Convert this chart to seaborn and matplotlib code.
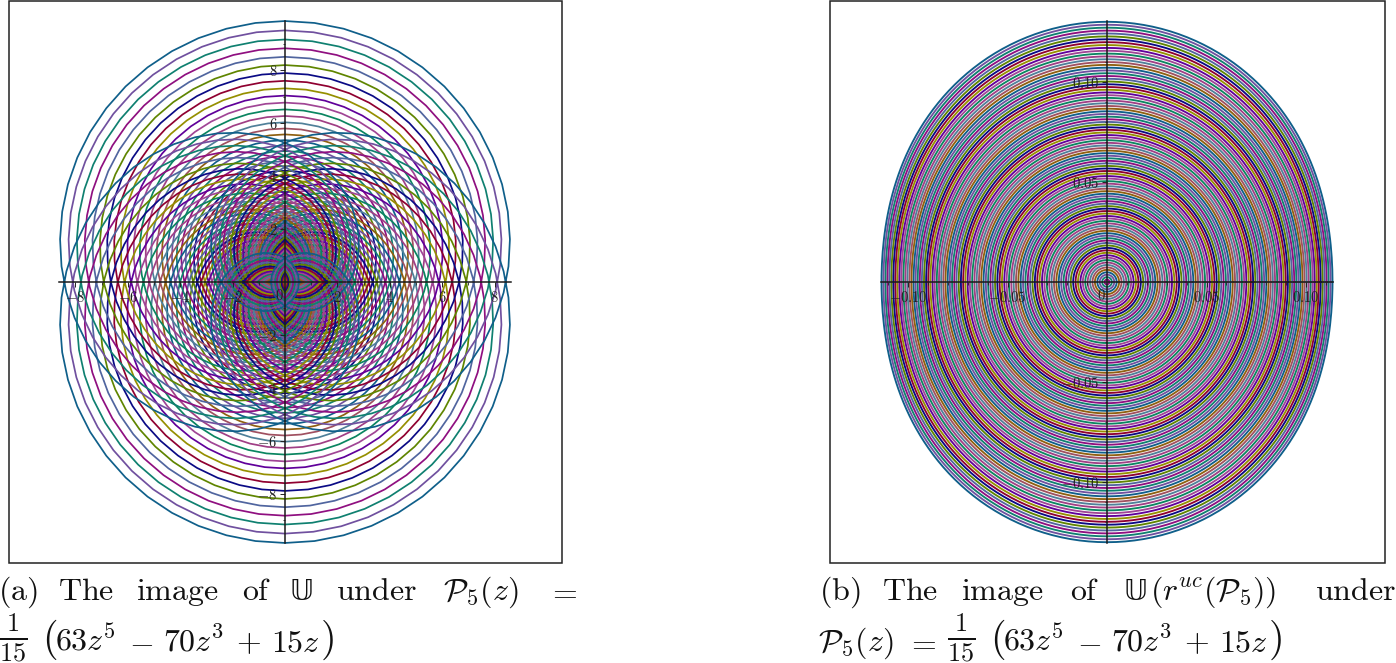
import numpy as np
import pandas as pd
import matplotlib
matplotlib.use("Agg")
import matplotlib.pyplot as plt
import seaborn as sns

# Both panels show circles |z| = r pushed through the polynomial in the captions,
# so the curve shapes come from that polynomial; only the radii and colours are read off.

# circle radii, percent of the panel's outer radius (1 = innermost, drawn first)
RADII_PCT = [
    1, 2, 3, 4, 5, 6, 7, 8, 9, 10, 11, 12, 13, 14, 15, 16, 17, 18, 19, 20,
    21, 22, 23, 24, 25, 26, 27, 28, 29, 30, 31, 32, 33, 34, 35, 36, 37, 38, 39, 40,
    41, 42, 43, 44, 45, 46, 47, 48, 49, 50, 51, 52, 53, 54, 55, 56, 57, 58, 59, 60,
    61, 62, 63, 64, 65, 66, 67, 68, 69, 70, 71, 72, 73, 74, 75, 76, 77, 78, 79, 80,
    81, 82, 83, 84, 85, 86, 87, 88, 89, 90, 91, 92, 93, 94, 95, 96, 97, 98, 99, 100,
]
OUTER_RADIUS_A = 1.0
OUTER_RADIUS_B = 0.1216

# colours going inward from the outermost curve
CYCLE = ["#0f5f8a", "#70509f", "#0f8070", "#8f0f80", "#50659f", "#5f8500", "#0a0a85", "#8f0030",
         "#958f00", "#60009a", "#a04595", "#0a8560", "#a03f85", "#4f8099", "#a05060", "#8f6010"]

TICKS_A = [-8, -6, -4, -2, 2, 4, 6, 8]
MINOR_XA = [-7, -5, -3, -1, 1, 3, 5, 7]
MINOR_YA = [-9, -7, -5, -3, -1, 1, 3, 5, 7, 9]
LABELS_A = ["$-8$", "$-6$", "$-4$", "$-2$", "$2$", "$4$", "$6$", "$8$"]
TICKS_B = [-0.10, -0.05, 0.05, 0.10]
MINOR_XB = [-0.11, -0.09, -0.08, -0.07, -0.06, -0.04, -0.03, -0.02, -0.01,
            0.01, 0.02, 0.03, 0.04, 0.06, 0.07, 0.08, 0.09, 0.11]
MINOR_YB = [-0.12, -0.11, -0.09, -0.08, -0.07, -0.06, -0.04, -0.03, -0.02, -0.01,
            0.01, 0.02, 0.03, 0.04, 0.06, 0.07, 0.08, 0.09, 0.11, 0.12]
LABELS_B = ["$-0.10$", "$-0.05$", "$0.05$", "$0.10$"]

W, H = 1396, 663
N_SAMPLES = 200
CAP_SIZE = 23

sns.set_theme(style="white")
plt.rcParams["mathtext.fontset"] = "cm"


def p5(z):
    return (63 * z**5 - 70 * z**3 + 15 * z) / 15


def panel_frame(outer):
    angle = np.linspace(0, 2 * np.pi, N_SAMPLES + 1)
    rows = []
    for pct in RADII_PCT:
        w = p5(outer * pct / 100 * np.exp(1j * angle))
        rows.append(pd.DataFrame({"u": w.real, "v": w.imag, "pct": pct}))
    return pd.concat(rows, ignore_index=True)


def draw_panel(box, center, scale, outer, lw, ticks, minor_x, minor_y, labels, bounds, zero_at):
    left, right, top, bottom = box
    ax = fig.add_axes([left / W, 1 - bottom / H, (right - left) / W, (bottom - top) / H])
    palette = {p: CYCLE[(100 - p) % 16] for p in RADII_PCT}
    sns.lineplot(data=panel_frame(outer), x="u", y="v", hue="pct", hue_order=RADII_PCT,
                 palette=palette, sort=False, estimator=None, legend=False,
                 linewidth=lw, ax=ax)
    ax.set_xlim((left - center[0]) / scale[0], (right - center[0]) / scale[0])
    ax.set_ylim((center[1] - bottom) / scale[1], (center[1] - top) / scale[1])
    ax.set_xlabel("")
    ax.set_ylabel("")
    ax.patch.set(edgecolor="#222222", linewidth=1.1)
    ax.set_axisbelow(False)
    for side in ["top", "right"]:
        ax.spines[side].set_visible(False)
    ax.spines["bottom"].set_position("zero")
    ax.spines["left"].set_position("zero")
    ax.spines["bottom"].set_bounds(-bounds[0], bounds[0])
    ax.spines["left"].set_bounds(-bounds[1], bounds[1])
    for side in ["bottom", "left"]:
        ax.spines[side].set(color="#1a1a1a", linewidth=1.1, zorder=5)
    ax.set_xticks(ticks, labels=labels)
    ax.set_yticks(ticks, labels=labels)
    ax.set_xticks(minor_x, minor=True)
    ax.set_yticks(minor_y, minor=True)
    ax.tick_params(which="major", length=3.5, width=0.7, color="#222222",
                   labelsize=10.5, labelcolor="#222222", pad=2, bottom=True, left=True)
    ax.tick_params(which="minor", length=1.8, width=0.6, color="#222222", bottom=True, left=True)
    ax.text(zero_at[0], zero_at[1], "$0$", fontsize=10.5, color="#222222",
            ha="center", va="center", zorder=6)
    return ax


def caption(x, y, s, size=CAP_SIZE, **kw):
    fig.text((x - 2) / W, 1 - y / H, s, fontsize=size, color="#111111", va="baseline", **kw)


def formula_body(x0, y):
    # 1/15 and the polynomial in big parentheses, spread out the way the source typesets it
    caption(x0, y - 5, r"$\frac{1}{15}$", size=27)
    caption(x0 + 43, y - 1, "$($", size=29)
    caption(x0 + 56, y, "$63z^5$")
    caption(x0 + 130, y, "$-$")
    caption(x0 + 164, y, "$70z^3$")
    caption(x0 + 237, y, "$+$")
    caption(x0 + 272, y, "$15z$")
    caption(x0 + 321, y - 1, "$)$", size=29)


def double_u(x, y):
    caption(x, y, "\U0001D54C", family="DejaVu Sans", size=CAP_SIZE - 2)


fig = plt.figure(figsize=(W / 100, H / 100), dpi=100, facecolor="white")

draw_panel((9, 562, 1, 563), (285, 282), (26.2, 26.45), OUTER_RADIUS_A, 1.25,
           TICKS_A, MINOR_XA, MINOR_YA, LABELS_A, (8.62, 9.87), (-0.2, -0.5))
draw_panel((830, 1385, 1, 563), (1107, 282), (1990, 2000), OUTER_RADIUS_B, 1.35,
           TICKS_B, MINOR_XB, MINOR_YB, LABELS_B, (0.1135, 0.1305), (-0.003, -0.0065))

# caption (a)
caption(0, 600, r"$\mathrm{(a)}$")
caption(60, 600, r"$\mathrm{The}$")
caption(138, 600, r"$\mathrm{image}$")
caption(244, 600, r"$\mathrm{of}$")
double_u(292, 600)
caption(338, 600, r"$\mathrm{under}$")
caption(445, 600, r"$\mathcal{P}_5(z)$")
caption(549, 600, r"$=$")
formula_body(1, 651)

# caption (b)
caption(821, 600, r"$\mathrm{(b)}$")
caption(884, 600, r"$\mathrm{The}$")
caption(963, 600, r"$\mathrm{image}$")
caption(1072, 600, r"$\mathrm{of}$")
double_u(1125, 600)
caption(1152, 600, r"$(r^{uc}(\mathcal{P}_5))$")
caption(1317, 600, r"$\mathrm{under}$")
caption(820, 651, r"$\mathcal{P}_5(z)$")
caption(908, 651, r"$=$")
formula_body(949, 651)

plt.savefig("out.png", dpi=100, facecolor="white")
